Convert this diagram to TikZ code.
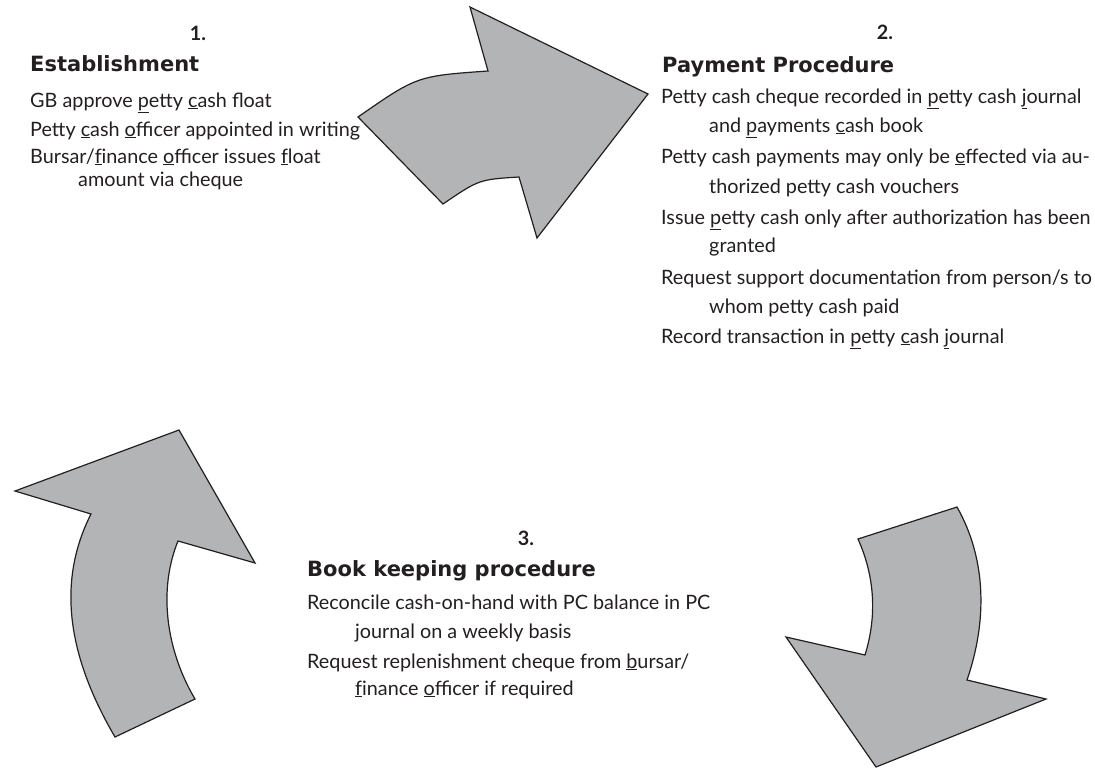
\documentclass[tikz,border=0pt]{standalone}
\usepackage{fontspec}
\setmainfont{Lato}
\newfontfamily\headfont{DejaVu Sans}[BoldFont={DejaVu Sans Bold}]
\definecolor{arrowgray}{HTML}{B3B4B6}
\definecolor{ink}{HTML}{231F20}
\newcommand{\ulc}[1]{\underline{#1}}
\tikzset{
  bigarrow/.style={draw=ink, fill=arrowgray, line width=1.2pt, line join=miter},
  numtext/.style={anchor=base, inner sep=0pt, text=ink, font=\fontsize{19.8}{22}\selectfont\bfseries},
  headtext/.style={anchor=base west, inner sep=0pt, text=ink, font=\fontsize{21}{24}\selectfont\headfont\bfseries},
  itemtext/.style={anchor=base west, inner sep=0pt, text=ink, align=left, font=\fontsize{19.8}{29}\selectfont},
  itemskip/.style={font=\fontsize{19.8}{#1}\selectfont},
}
\newcommand{\ind}{\hspace*{48pt}}
\begin{document}
\begin{tikzpicture}[x=1pt,y=-1pt]
\useasboundingbox (0,0) rectangle (1095,769);

% Arrow 1 (top, pointing right)
\draw[bigarrow] (358,117) .. controls (417,76) .. (488,71) -- (470,7) -- (648,94) -- (537,238) -- (519,177) .. controls (479,179.5) .. (443,204) -- cycle;

% Arrow 2 (bottom right, pointing down)
\draw[bigarrow] (858,539) -- (957,507) .. controls (987,560) and (987,622) .. (967,680) -- (1046,699) -- (876,767) -- (786,637) -- (865,655) .. controls (877,616) and (875,577) .. (858,539) -- cycle;

% Arrow 3 (bottom left, pointing up)
\draw[bigarrow] (115,737) -- (195,699) .. controls (166,650) and (158,590) .. (178,541) -- (255,563) -- (179,430) -- (15,491) -- (91,514) .. controls (55,585) and (70,660) .. (115,737) -- cycle;

% Section 1
\node[numtext] (n1) at (198,40) {1.};
\node[headtext] (h1) at (30,71) {Establishment};
\node[itemtext] (a1) at (30,107) {GB approve \ulc{p}etty \ulc{c}ash float};
\node[itemtext] (a2) at (30,136) {Petty \ulc{c}ash \ulc{o}fficer appointed in writing};
\node[itemtext,itemskip=23] (a3) at (30,186) {Bursar/\ulc{f}inance \ulc{o}fficer issues \ulc{f}loat\\\ind amount via cheque};

% Section 2
\node[numtext] (n2) at (885,39) {2.};
\node[headtext] (h2) at (662,72) {Payment Procedure};
\node[itemtext,itemskip=29] (b1) at (661,132) {Petty cash cheque recorded in \ulc{p}etty cash \ulc{j}ournal\\\ind and \ulc{p}ayments \ulc{c}ash book};
\node[itemtext,itemskip=30] (b2) at (661,193) {Petty cash payments may only be \ulc{e}ffected via au-\\\ind thorized petty cash vouchers};
\node[itemtext,itemskip=28] (b3) at (661,252) {Issue \ulc{p}etty cash only after authorization has been\\\ind granted};
\node[itemtext,itemskip=29] (b4) at (661,313) {Request support documentation from person/s to\\\ind whom petty cash paid};
\node[itemtext] (b5) at (661,343) {Record transaction in \ulc{p}etty \ulc{c}ash \ulc{j}ournal};

% Section 3
\node[numtext] (n3) at (526,545) {3.};
\node[headtext] (h3) at (307,576) {Book keeping procedure};
\node[itemtext,itemskip=29] (c1) at (307,638) {Reconcile cash-on-hand with PC balance in PC\\\ind journal on a weekly basis};
\node[itemtext,itemskip=27] (c2) at (307,695) {Request replenishment cheque from \ulc{b}ursar/\\\ind \ulc{f}inance \ulc{o}fficer if required};
\end{tikzpicture}
\end{document}
